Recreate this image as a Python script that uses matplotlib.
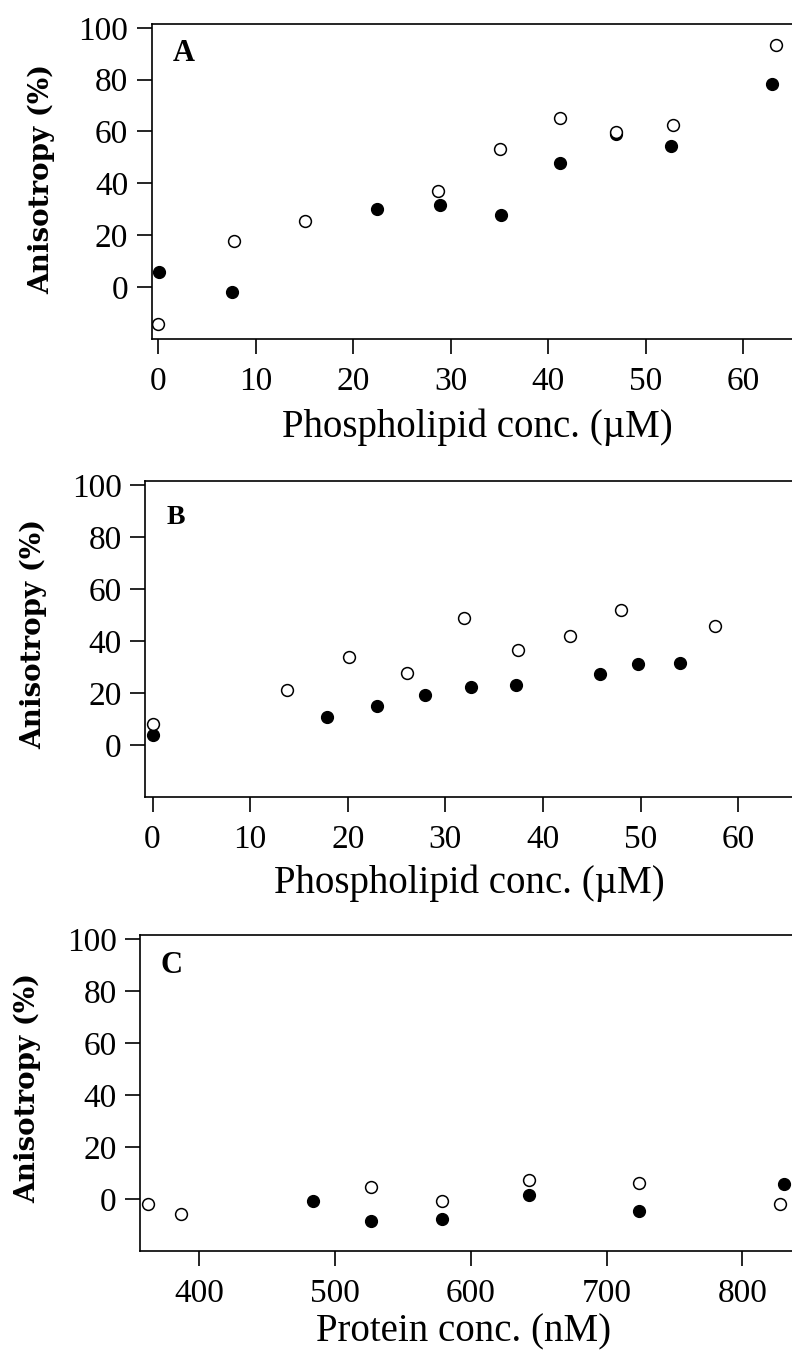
import matplotlib
matplotlib.use("Agg")
import matplotlib.pyplot as plt

plt.rcParams["font.family"] = ["Liberation Serif", "DejaVu Serif"]

# panel A: phospholipid titration
a_open_x = [0.0, 7.8, 15.1, 28.7, 35.1, 41.2, 47.0, 52.8, 63.4]
a_open_y = [-14.5, 17.9, 25.6, 37.2, 53.3, 65.0, 59.7, 62.4, 93.2]
a_fill_x = [0.1, 7.6, 22.5, 28.9, 35.2, 41.2, 47.0, 52.6, 63.0]
a_fill_y = [5.7, -1.8, 29.9, 31.5, 27.9, 47.9, 59.2, 54.3, 78.4]

# panel B: phospholipid titration
b_open_x = [0.05, 13.8, 20.1, 26.1, 31.9, 37.4, 42.8, 48.0, 57.6]
b_open_y = [8.1, 21.1, 33.8, 27.9, 48.8, 36.6, 42.2, 52.1, 45.9]
b_fill_x = [0.0, 17.9, 23.0, 27.9, 32.6, 37.2, 45.8, 49.7, 54.0]
b_fill_y = [3.9, 10.7, 15.0, 19.4, 22.2, 23.0, 27.2, 31.2, 31.5]

# panel C: protein titration
c_open_x = [362.4, 386.6, 526.5, 578.6, 643.0, 724.2, 828.0]
c_open_y = [-2.1, -5.9, 4.5, -0.6, 7.3, 6.3, -1.9]
c_fill_x = [483.4, 526.5, 578.9, 643.0, 724.2, 831.0]
c_fill_y = [-0.6, -8.6, -7.7, 1.4, -4.6, 5.8]

phospho_ticks = [0, 10, 20, 30, 40, 50, 60]
protein_ticks = [400, 500, 600, 700, 800]
y_ticks = [0, 20, 40, 60, 80, 100]

fig = plt.figure(figsize=(7.92, 13.52), dpi=100)

panels = [
    dict(rect=[0.1913, 0.7493, 0.8087, 0.2330], xlim=(-0.67, 65.0), ylim=(-20.1, 101.5),
         ox=a_open_x, oy=a_open_y, fx=a_fill_x, fy=a_fill_y, xt=phospho_ticks,
         xlabel="Phospholipid conc. (\u00b5M)", letter="A", lsize=22,
         xl_xy=(0.509, -0.222), yl_xy=(-0.151, 0.508), let_xy=(0.051, 0.905)),
    dict(rect=[0.1831, 0.4105, 0.8169, 0.2337], xlim=(-0.77, 65.5), ylim=(-20.0, 101.7),
         ox=b_open_x, oy=b_open_y, fx=b_fill_x, fy=b_fill_y, xt=phospho_ticks,
         xlabel="Phospholipid conc. (\u00b5M)", letter="B", lsize=20,
         xl_xy=(0.502, -0.215), yl_xy=(-0.151, 0.517), let_xy=(0.048, 0.886)),
    dict(rect=[0.1768, 0.0747, 0.8232, 0.2337], xlim=(356.2, 836.6), ylim=(-20.0, 101.5),
         ox=c_open_x, oy=c_open_y, fx=c_fill_x, fy=c_fill_y, xt=protein_ticks,
         xlabel="Protein conc. (nM)", letter="C", lsize=22,
         xl_xy=(0.496, -0.197), yl_xy=(-0.151, 0.517), let_xy=(0.048, 0.905)),
]

for p in panels:
    ax = fig.add_axes(p["rect"])
    ax.plot(p["fx"], p["fy"], "o", color="black", markersize=8.5, linestyle="none")
    ax.plot(p["ox"], p["oy"], "o", markerfacecolor="white", markeredgecolor="black",
            markeredgewidth=1.1, markersize=8.5, linestyle="none")
    ax.set_xlim(*p["xlim"])
    ax.set_ylim(*p["ylim"])
    ax.set_xticks(p["xt"])
    ax.set_yticks(y_ticks)
    ax.spines["right"].set_visible(False)
    for s in ["left", "top", "bottom"]:
        ax.spines[s].set_linewidth(1.2)
    ax.tick_params(axis="y", direction="out", length=10.8, width=1.2, pad=5.9, labelsize=24)
    ax.tick_params(axis="x", direction="out", length=10.8, width=1.2, pad=9, labelsize=24)
    ax.set_xlabel(p["xlabel"], fontsize=28)
    ax.xaxis.set_label_coords(*p["xl_xy"])
    # y label in the wider bold face, like the letter-spaced original
    ax.set_ylabel("Anisotropy (%)", fontsize=20, fontweight="bold", family="DejaVu Serif")
    ax.yaxis.set_label_coords(*p["yl_xy"])
    ax.text(p["let_xy"][0], p["let_xy"][1], p["letter"], transform=ax.transAxes,
            ha="center", va="center", fontsize=p["lsize"], fontweight="bold")

fig.savefig("out.png", dpi=100)
